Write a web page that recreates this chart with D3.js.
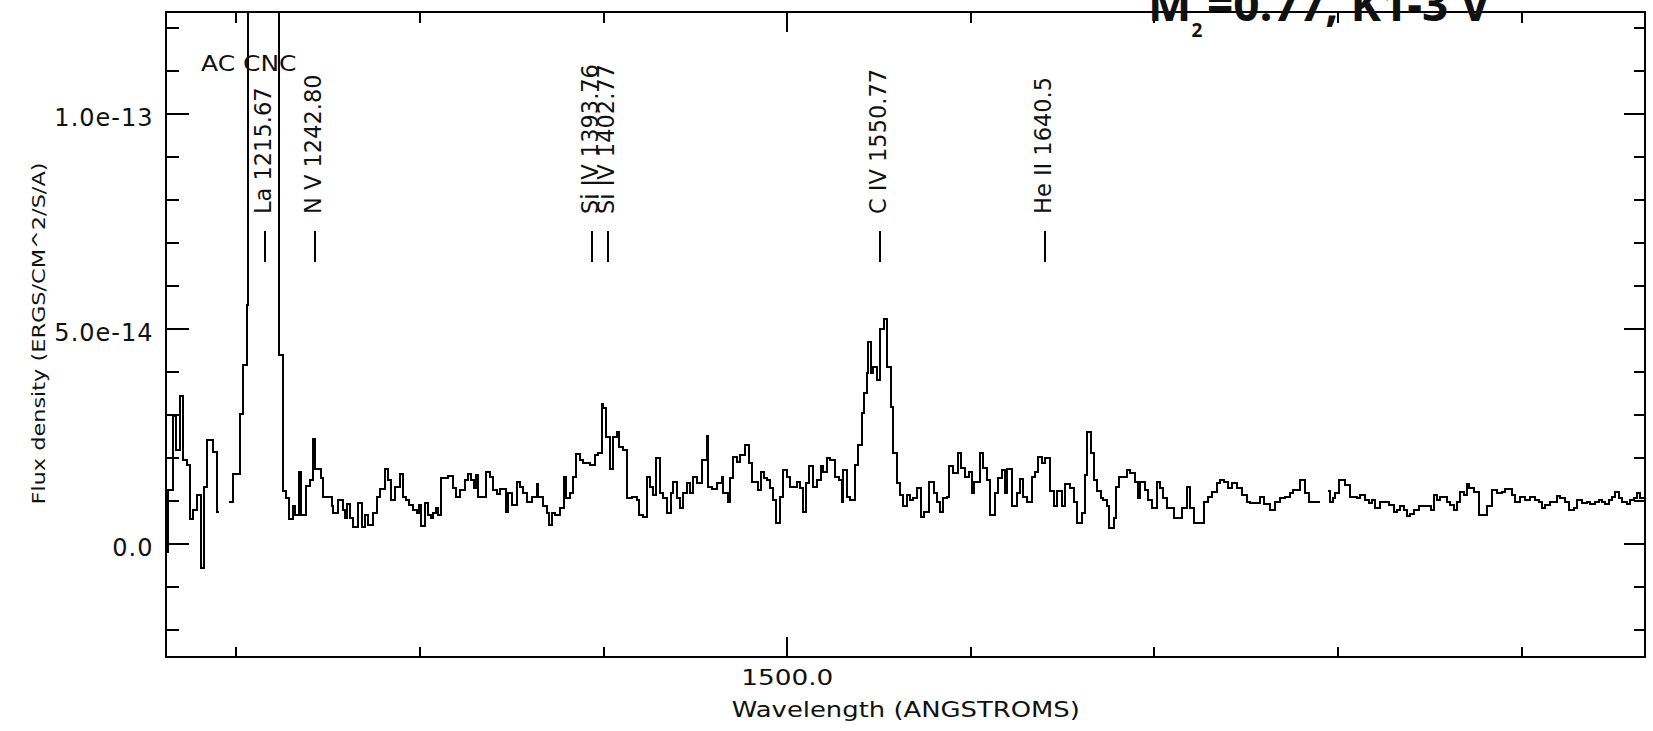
<!DOCTYPE html>
<html><head><meta charset="utf-8">
<script src="https://cdn.jsdelivr.net/npm/d3@7"></script>
<style>
body{margin:0;background:#fff;}
svg{display:block;}
text{font-family:"DejaVu Sans",sans-serif;fill:#111;}
</style>
</head><body>
<svg id="chart" width="1653" height="731"></svg>
<script>
// ---- data (flux in units of 1e-14 ERGS/CM^2/S/A; null = no data) ----
const binStart = [
1162.2,1163.1,1165.8,1167.1,1169.4,1170.9,1173.1,1175.2,1176.7,1178.5,1181.2,1182.5,1184.0,1187.6,1189.8,1190.9,
1196.3,1198.1,1202.1,1203.6,1205.8,1206.7,1209.4,1214.8,1219.4,1223.6,1225.7,1227.5,1229.0,1230.8,1232.1,1234.4,
1235.5,1238.1,1240.3,1241.7,1243.0,1246.1,1247.5,1252.1,1253.0,1255.7,1258.1,1259.3,1260.2,1262.1,1263.9,1266.6,
1268.4,1270.2,1272.0,1274.4,1276.6,1278.4,1281.1,1282.9,1284.2,1286.6,
1289.3,1290.8,1292.6,1294.4,1296.6,1298.4,1299.8,1300.6,1302.9,1304.7,1306.0,1307.5,1308.9,1310.2,1311.5,1315.6,
1318.4,1319.8,1322.0,1324.7,1326.5,1327.8,1329.6,1330.7,1332.0,1333.8,1336.2,1338.3,1339.8,1342.0,1343.8,1347.1,
1348.3,1350.1,1352.9,1354.7,1356.5,1358.3,1361.0,1363.8,1364.7,1367.4,1369.2,1370.7,1371.9,1373.8,1376.5,1378.7,
1379.8,1381.9,1383.7,1385.2,1387.4,1389.2,1392.8,1395.6,1397.4,1399.2,1400.1,1401.4,1403.7,1405.2,1407.4,1408.8,
1410.6,1412.8,1415.5,1418.3,1419.7,1421.9,1424.1,1425.5,1427.3,1428.8,1431.0,1432.8,1434.6,1436.8,1438.2,1440.0,
1441.9,1443.7,1445.5,1447.3,1449.1,1450.9,1453.7,1456.4,1457.3,1459.1,1461.8,1464.6,1465.5,1468.2,1469.1,1470.9,
1472.7,1474.6,1477.3,1479.6,1480.9,1484.5,1485.8,1487.6,1489.1,1490.9,1492.7,1494.2,1496.4,1498.2,1500.0,1501.8,
1505.4,1507.2,1509.1,1510.5,1512.3,1514.5,1516.3,1518.5,1520.0,1521.8,1523.6,1526.3,1528.7,1530.0,1530.9,1532.7,
1534.5,1537.2,1539.0,1540.9,1542.1,1543.6,1544.5,1545.8,1547.2,1549.0,1550.8,1552.7,1554.8,1556.6,1558.1,1559.9,
1561.7,1563.2,1565.4,1567.2,1569.0,1570.8,1573.0,1574.8,1577.7,1580.3,1582.1,1583.5,1585.3,1587.2,1588.6,1590.8,
1593.5,1594.8,1597.2,1599.0,1600.8,1602.1,1605.0,1606.8,1609.0,1610.8,1613.5,1615.3,1617.1,1618.9,1620.2,1622.6,
1625.3,1626.8,1628.9,1630.8,1633.5,1635.3,1637.1,1638.9,1640.7,1643.5,1645.3,1647.1,1649.8,1651.6,1654.4,1656.2,
1658.0,1660.7,1662.5,1663.8,1665.6,1667.1,1668.9,1671.1,1672.5,1674.3,1675.3,1678.0,1679.4,1680.7,1685.2,1687.1,
1689.8,1691.1,1692.5,1695.2,1697.0,1698.9,1701.6,1703.4,1705.2,1707.0,1710.7,1715.2,1717.9,1719.7,1721.6,1727.0,
1729.7,1731.6,1734.3,1736.1,1737.9,1740.6,1742.5,1745.2,1747.9,1750.6,1752.4,1757.9,1759.7,1763.3,1766.1,1768.8,
1771.5,1774.2,1776.0,
1779.7,1782.4,1784.2,1790.2,1794.6,1795.7,1797.5,1798.8,1800.6,1804.2,1806.9,1810.6,1812.4,1815.1,1816.9,1818.7,
1820.6,1823.3,1827.8,1830.5,1832.4,1834.2,1836.0,1837.8,1839.6,1841.4,1844.2,1848.7,1850.9,1852.3,1854.2,1856.0,
1859.6,1861.4,1863.2,1865.0,1866.9,1868.7,1870.5,1871.4,1874.1,1876.9,1881.4,1884.1,1886.8,1889.6,1891.4,1895.0,
1896.8,1899.6,1902.3,1905.0,1907.7,1909.5,1911.4,1913.2,1915.9,1919.5,1921.3,1924.1,1925.9,1928.6,1930.4,1933.2,
1935.9,1937.7,1940.4,1942.2,1944.1,1945.9,1947.7,1949.5,1951.3,1953.1,1955.0,1957.7,1959.5,1961.3,1963.1,1964.9,
1967.1
];
const flux = [
-0.19,1.24,2.96,2.17,3.43,1.94,1.82,0.56,0.78,1.13,-0.58,1.32,2.41,2.12,0.72,null,
0.97,1.61,3.00,4.15,5.55,14.5,24.0,30.0,18.0,4.38,1.22,1.05,0.56,0.86,0.66,1.65,
0.66,1.34,1.48,2.42,1.73,1.52,1.09,0.86,0.70,1.01,0.78,0.59,0.92,0.59,0.39,0.93,
0.39,0.66,0.43,0.70,1.09,1.26,1.73,1.48,1.01,1.32,
1.61,1.09,1.01,0.90,0.78,0.70,0.90,0.41,0.95,0.66,0.59,0.70,0.82,0.66,1.52,1.57,
1.28,1.09,1.24,1.48,1.61,1.48,1.28,1.59,1.09,1.07,1.67,1.55,1.24,1.15,1.26,0.72,
1.17,0.90,1.44,1.32,1.17,0.97,1.07,1.38,1.09,0.86,0.70,0.43,0.70,0.66,0.82,1.55,
1.05,1.17,1.55,2.08,1.94,1.86,1.82,2.06,2.10,3.24,3.14,2.48,1.73,2.48,2.60,2.25,
2.17,1.05,1.07,1.01,0.66,0.61,1.55,1.32,1.13,1.98,1.17,1.05,0.70,1.17,1.44,1.05,
0.82,1.17,1.40,1.17,1.55,1.40,1.94,2.50,1.32,1.26,1.40,1.55,1.17,0.97,1.52,2.02,
1.90,2.06,2.29,1.86,1.44,1.24,1.67,1.52,1.48,1.28,1.01,0.47,1.09,1.71,1.55,1.32,
1.44,1.28,0.74,1.40,1.79,1.32,1.48,1.79,1.65,1.98,1.94,1.55,1.48,0.97,1.71,1.09,
1.01,1.82,2.29,3.04,3.49,3.96,4.69,3.96,4.11,3.80,4.98,5.23,4.11,3.18,2.11,1.40,
1.13,0.86,1.13,1.01,1.05,1.28,0.62,0.74,1.44,1.17,0.97,0.74,1.05,1.09,1.79,1.63,
2.11,1.75,1.55,1.67,1.17,1.44,2.11,1.75,1.48,0.66,1.17,1.52,1.71,1.17,1.72,0.86,
1.17,1.49,1.09,0.97,1.55,1.67,2.02,1.88,1.98,1.23,0.86,1.23,0.86,1.38,1.28,0.97,
0.47,0.70,1.59,2.60,2.10,1.48,1.23,1.05,1.01,0.86,0.35,0.59,1.32,1.55,1.71,1.63,
1.44,1.05,1.44,1.24,1.01,0.82,1.44,1.28,1.05,0.82,0.59,0.82,1.32,0.82,0.47,0.97,
1.09,1.20,1.40,1.48,1.44,1.28,1.40,1.28,1.13,0.97,0.93,1.09,0.92,0.78,0.97,1.05,
1.07,1.17,1.24,
1.48,1.17,0.97,null,1.23,0.97,1.05,1.17,1.48,1.36,1.09,1.05,1.13,1.01,0.93,1.01,
0.82,0.97,0.90,0.74,0.78,0.86,0.78,0.64,0.69,0.78,0.86,0.87,0.78,1.13,1.01,1.07,
0.97,0.90,0.78,0.97,1.20,1.13,1.38,1.28,1.20,0.66,0.87,1.24,1.17,1.20,1.26,1.13,
0.97,1.09,1.01,1.09,1.01,0.97,0.82,0.90,0.97,1.10,1.05,0.97,0.78,0.82,1.01,0.93,
0.97,0.92,0.97,1.01,0.97,0.92,1.01,1.09,1.20,1.05,0.97,0.92,1.01,1.05,1.17,1.05,
null
];
const fluxUnit = 1e-14;

const xMinorTicks = [1200,1300,1400,1600,1700,1800,1900];
const xMajorTicks = [1500];
const xTickLabels = ["1500.0"];
const yMinorTicks = [-2e-14,-1e-14,1e-14,2e-14,3e-14,4e-14,6e-14,7e-14,8e-14,9e-14,1.1e-13,1.2e-13];
const yMajorTicks = [0,5e-14,1e-13];
const yTickLabels = ["0.0","5.0e-14","1.0e-13"];

const lineWavelengths = [1215.67,1242.80,1393.76,1402.77,1550.77,1640.5];
const lineLabels = ["La 1215.67","N V 1242.80","Si IV 1393.76","Si IV 1402.77","C IV 1550.77","He II 1640.5"];

const objectName = "AC CNC";
const xTitle = "Wavelength (ANGSTROMS)";
const yTitle = "Flux density (ERGS/CM^2/S/A)";

// ---- layout ----
const L = 165.5, R = 1644.5, T = 12.3, B = 657;
const svg = d3.select("#chart");

const x = d3.scaleLinear().domain([1161.6, 1967.2]).range([L, R]);
const y = d3.scaleLinear().domain([-2.64e-14, 1.235e-13]).range([B, T]);

svg.append("defs").append("clipPath").attr("id","plotclip")
  .append("rect").attr("x",L).attr("y",T).attr("width",R-L).attr("height",B-T);

// spectrum as histogram steps
const pts = [];
for (let i = 0; i < binStart.length - 1; i++) {
  if (flux[i] === null) { pts.push({gap:true}); continue; }
  const v = flux[i] * fluxUnit;
  pts.push({w: binStart[i], f: v});
  pts.push({w: binStart[i+1], f: v});
}
const line = d3.line().defined(d => !d.gap).x(d => x(d.w)).y(d => y(d.f));
svg.append("path").datum(pts)
  .attr("clip-path","url(#plotclip)")
  .attr("d", line)
  .attr("fill","none").attr("stroke","#000").attr("stroke-width",2)
  .attr("shape-rendering","crispEdges");

// axes ticks (inward)
function styleAxis(g){
  g.select(".domain").remove();
  g.selectAll(".tick line").attr("stroke","#000").attr("stroke-width",2).attr("shape-rendering","crispEdges");
}
svg.append("g").attr("transform",`translate(0,${B})`)
  .call(d3.axisBottom(x).tickValues(xMinorTicks).tickSize(-10.5).tickFormat(""))
  .call(styleAxis);
const bMaj = svg.append("g").attr("transform",`translate(0,${B})`)
  .call(d3.axisBottom(x).tickValues(xMajorTicks).tickSize(-20).tickPadding(0)
    .tickFormat((d,i) => xTickLabels[i]))
  .call(styleAxis);
bMaj.selectAll(".tick text").attr("y",28).attr("dy",0)
  .style("font-size","21px").style("font-family","DejaVu Sans").attr("fill","#111")
  .attr("textLength",92).attr("lengthAdjust","spacingAndGlyphs");

svg.append("g").attr("transform",`translate(0,${T})`)
  .call(d3.axisTop(x).tickValues(xMinorTicks).tickSize(-10.5).tickFormat(""))
  .call(styleAxis);
svg.append("g").attr("transform",`translate(0,${T})`)
  .call(d3.axisTop(x).tickValues(xMajorTicks).tickSize(-20).tickFormat(""))
  .call(styleAxis);

svg.append("g").attr("transform",`translate(${L},0)`)
  .call(d3.axisLeft(y).tickValues(yMinorTicks).tickSize(-13.5).tickFormat(""))
  .call(styleAxis);
const lMaj = svg.append("g").attr("transform",`translate(${L},0)`)
  .call(d3.axisLeft(y).tickValues(yMajorTicks).tickSize(-23.5).tickPadding(12)
    .tickFormat((d,i) => yTickLabels[i]))
  .call(styleAxis);
lMaj.selectAll(".tick text").attr("dy","0.5em")
  .style("font-size","24px").style("font-family","DejaVu Sans").attr("fill","#111")
  .style("letter-spacing","1px");

svg.append("g").attr("transform",`translate(${R},0)`)
  .call(d3.axisRight(y).tickValues(yMinorTicks).tickSize(-11).tickFormat(""))
  .call(styleAxis);
svg.append("g").attr("transform",`translate(${R},0)`)
  .call(d3.axisRight(y).tickValues(yMajorTicks).tickSize(-20.5).tickFormat(""))
  .call(styleAxis);

// frame
svg.append("rect").attr("x",L).attr("y",T).attr("width",R-L).attr("height",B-T)
  .attr("fill","none").attr("stroke","#000").attr("stroke-width",2)
  .attr("shape-rendering","crispEdges");

// axis titles
svg.append("text").attr("x",(731.7+1080)/2).attr("y",716.7).attr("text-anchor","middle")
  .style("font-size","20.5px").attr("textLength",348).attr("lengthAdjust","spacingAndGlyphs")
  .text(xTitle);
svg.append("text").attr("transform",`translate(45,${(163+504)/2}) rotate(-90)`)
  .attr("text-anchor","middle")
  .style("font-size","18.5px").attr("textLength",342).attr("lengthAdjust","spacingAndGlyphs")
  .text(yTitle);

// object name
svg.append("text").attr("x",201).attr("y",71)
  .style("font-size","22px").attr("textLength",95.5).attr("lengthAdjust","spacingAndGlyphs")
  .text(objectName);

// spectral line markers and labels
const lg = svg.append("g");
lg.selectAll("line").data(lineWavelengths).join("line")
  .attr("x1",d => Math.round(x(d))).attr("x2",d => Math.round(x(d)))
  .attr("y1",231).attr("y2",262)
  .attr("stroke","#000").attr("stroke-width",2).attr("shape-rendering","crispEdges");
lg.selectAll("text").data(lineWavelengths).join("text")
  .attr("transform",d => `translate(${x(d)+6},214) rotate(-90)`)
  .attr("text-anchor","start")
  .style("font-size","22.5px")
  .text((d,i) => lineLabels[i]);

// title (partially cut off at the top, as in the original)
const tt = svg.append("text").attr("x",1148).attr("y",20.7)
  .style("font-family","'Open Sans',sans-serif").style("font-weight","700")
  .style("font-size","46px").attr("fill","#3b3b3b");
tt.append("tspan").text("M");
tt.append("tspan").attr("dy",16).style("font-size","19px").text("2");
tt.append("tspan").attr("x",1207).attr("dy",-16).text("=0.77, K1-3 V");
</script>
</body></html>
